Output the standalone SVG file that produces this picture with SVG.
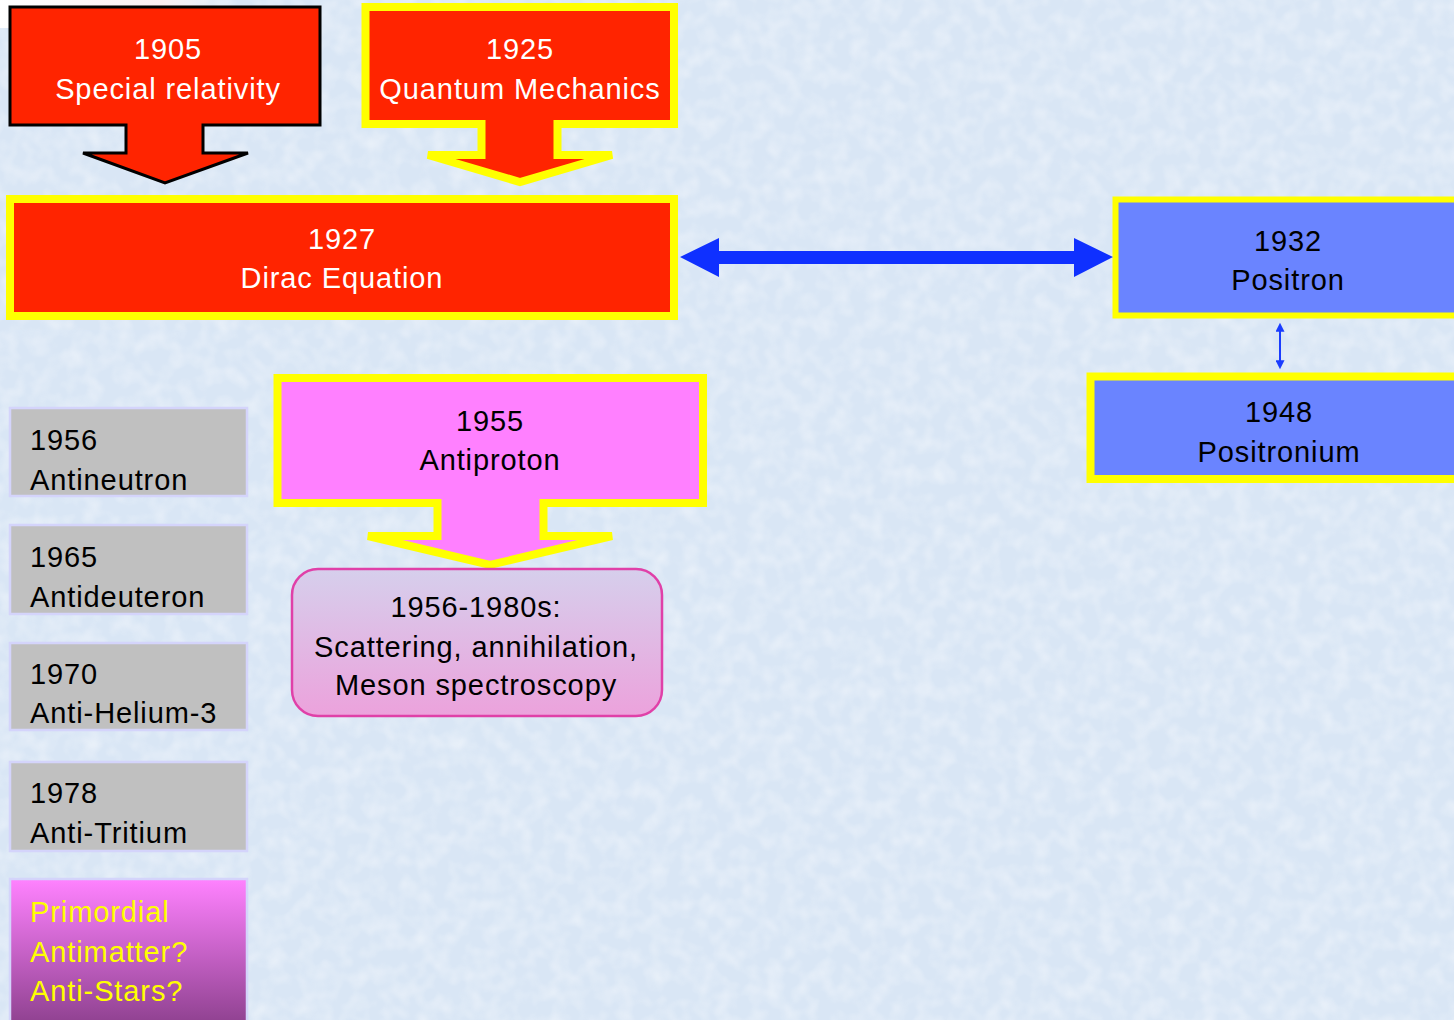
<svg xmlns="http://www.w3.org/2000/svg" width="1454" height="1020" viewBox="0 0 1454 1020">
<style>
text{font-family:"Liberation Sans","DejaVu Sans",sans-serif;font-size:29px;letter-spacing:0.9px;}
.w{fill:#ffffff;text-anchor:middle;}
.k{fill:#000000;text-anchor:middle;}
.kl{fill:#000000;}
.yl{fill:#ffff00;}
.red{fill:#ff2400;}
.ybox{stroke:#ffff00;stroke-width:8;stroke-linejoin:miter;}
.blue{fill:#6a84ff;}
.gray{fill:#c0c0c0;stroke:#d4d4fb;stroke-width:2.5;}
</style>
<defs>
<linearGradient id="gRound" x1="0" y1="0" x2="0" y2="1">
<stop offset="0" stop-color="#d6cfec"/>
<stop offset="1" stop-color="#eca2dc"/>
</linearGradient>
<linearGradient id="gPrim" x1="0" y1="0" x2="0" y2="1">
<stop offset="0" stop-color="#ff82ff"/>
<stop offset="1" stop-color="#8b3f8c"/>
</linearGradient>
<linearGradient id="gTop" x1="0" y1="0" x2="1" y2="0">
<stop offset="0" stop-color="#ffffff"/>
<stop offset="0.7" stop-color="#fbeef0"/>
<stop offset="1" stop-color="#ffffff" stop-opacity="0"/>
</linearGradient>
<filter id="tex" x="0" y="0" width="100%" height="100%">
<feTurbulence type="fractalNoise" baseFrequency="0.06" numOctaves="2" seed="3" result="n"/>
<feColorMatrix in="n" type="matrix" values="0 0 0 0 1  0 0 0 0 1  0 0 0 0 1  0 0 0 1.2 -0.45"/>
</filter>
<marker id="ms" viewBox="0 0 10 10" refX="2" refY="5" markerWidth="10" markerHeight="9" orient="auto-start-reverse" markerUnits="userSpaceOnUse">
<path d="M0,0 L10,5 L0,10 Z" fill="#1a3cff"/>
</marker>
</defs>
<rect width="1454" height="1020" fill="#d9e6f5"/>
<rect width="1454" height="1020" filter="url(#tex)" opacity="0.6"/>
<rect x="0" y="0" width="230" height="28" fill="url(#gTop)"/>

<g id="node-1905">
<path class="red" d="M10,7 H320 V125 H203 V153 H248 L165,183 L83,153 H126 V125 H10 Z" stroke="#000" stroke-width="3"/>
<text class="w" x="168" y="59">1905</text>
<text class="w" x="168" y="99">Special relativity</text>
</g>

<g id="node-1925">
<path class="red ybox" d="M365.5,7 H674 V124 H557.5 V155 H612 L520,182 L428,155 H481.5 V124 H365.5 Z"/>
<text class="w" x="520" y="59">1925</text>
<text class="w" x="520" y="99">Quantum Mechanics</text>
</g>

<g id="node-1927">
<rect class="red ybox" x="10" y="199" width="664" height="117"/>
<text class="w" x="342" y="249">1927</text>
<text class="w" x="342" y="288">Dirac Equation</text>
</g>

<g id="node-1932">
<rect class="blue" x="1115.5" y="199.5" width="350" height="116" stroke="#ffff00" stroke-width="6"/>
<text class="k" x="1288" y="251">1932</text>
<text class="k" x="1288" y="290">Positron</text>
</g>

<g id="node-1948">
<rect class="blue ybox" x="1090.5" y="376.5" width="380" height="102.5"/>
<text class="k" x="1279" y="422">1948</text>
<text class="k" x="1279" y="462">Positronium</text>
</g>

<g id="node-1955">
<path class="ybox" fill="#ff80ff" d="M277.5,378 H703 V503 H543.5 V536 H612 L490,565 L368,536 H437.5 V503 H277.5 Z"/>
<text class="k" x="490" y="431">1955</text>
<text class="k" x="490" y="470">Antiproton</text>
</g>

<g id="node-scattering">
<rect x="292" y="569" width="370" height="147" rx="26" fill="url(#gRound)" stroke="#e040a8" stroke-width="2.5"/>
<text class="k" x="476" y="617">1956-1980s:</text>
<text class="k" x="476" y="657">Scattering, annihilation,</text>
<text class="k" x="476" y="695">Meson spectroscopy</text>
</g>

<g id="node-1956">
<rect class="gray" x="10" y="408" width="237" height="88"/>
<text class="kl" x="30" y="450">1956</text>
<text class="kl" x="30" y="490">Antineutron</text>
</g>
<g id="node-1965">
<rect class="gray" x="10" y="525" width="237" height="89"/>
<text class="kl" x="30" y="567">1965</text>
<text class="kl" x="30" y="607">Antideuteron</text>
</g>
<g id="node-1970">
<rect class="gray" x="10" y="643" width="237" height="87"/>
<text class="kl" x="30" y="684">1970</text>
<text class="kl" x="30" y="723">Anti-Helium-3</text>
</g>
<g id="node-1978">
<rect class="gray" x="10" y="762" width="237" height="89"/>
<text class="kl" x="30" y="803">1978</text>
<text class="kl" x="30" y="843">Anti-Tritium</text>
</g>
<g id="node-primordial">
<rect x="10" y="879" width="237" height="150" fill="url(#gPrim)" stroke="#d4d4fb" stroke-width="2.5"/>
<text class="yl" x="30" y="922">Primordial</text>
<text class="yl" x="30" y="962">Antimatter?</text>
<text class="yl" x="30" y="1001">Anti-Stars?</text>
</g>

<g id="connectors">
<path d="M680,257 L719,238 V251 H1074 V238 L1113,257 L1074,277 V264 H719 V277 Z" fill="#0f30ff"/>
<line x1="1280" y1="330" x2="1280" y2="362" stroke="#1a3cff" stroke-width="2" marker-start="url(#ms)" marker-end="url(#ms)"/>
</g>
</svg>
